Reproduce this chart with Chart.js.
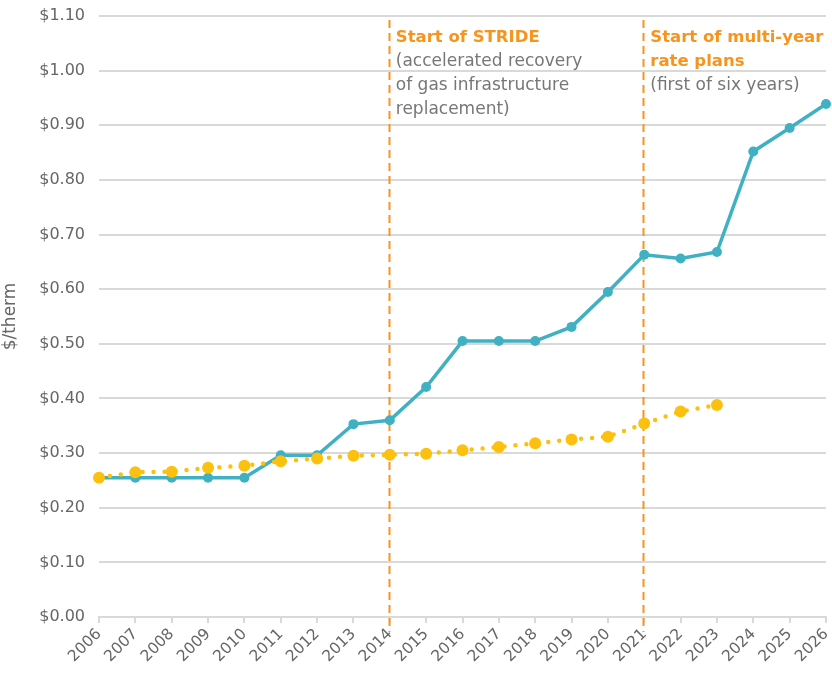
<!DOCTYPE html>
<html>
<head>
  <title>Gas rate per therm</title>
  <script src="https://cdn.jsdelivr.net/npm/chart.js"></script>
  <style>
    body { margin: 0; background: #fff; }
    #wrap { width: 832px; height: 678px; }
  </style>
</head>
<body>
  <div id="wrap"><canvas id="rateChart"></canvas></div>

  <script>
    const years = ["2006","2007","2008","2009","2010","2011","2012","2013","2014","2015","2016",
                   "2017","2018","2019","2020","2021","2022","2023","2024","2025","2026"];
    const rateValues = [0.255, 0.255, 0.255, 0.255, 0.255, 0.296, 0.296, 0.353, 0.360, 0.421, 0.505,
                        0.505, 0.505, 0.531, 0.595, 0.663, 0.656, 0.668, 0.852, 0.895, 0.939];
    const inflationValues = [0.255, 0.265, 0.266, 0.273, 0.277, 0.285, 0.290, 0.295, 0.297, 0.299, 0.305,
                             0.311, 0.318, 0.325, 0.330, 0.354, 0.376, 0.388];
    const yTicks = [0, 0.1, 0.2, 0.3, 0.4, 0.5, 0.6, 0.7, 0.8, 0.9, 1.0, 1.1];
    const markers = [
      { year: "2014", title: ["Start of STRIDE"], note: ["(accelerated recovery", "of gas infrastructure", "replacement)"] },
      { year: "2021", title: ["Start of multi-year", "rate plans"], note: ["(first of six years)"] }
    ];

    const FONT = "'DejaVu Sans', sans-serif";
    const ORANGE = "#f7941d";

    const markerPlugin = {
      id: "markers",
      beforeDatasetsDraw(chart) {
        const ctx = chart.ctx;
        const x = chart.scales.x;
        ctx.save();
        ctx.strokeStyle = ORANGE;
        ctx.lineWidth = 2;
        ctx.setLineDash([8, 5]);
        markers.forEach(m => {
          const px = Math.round(x.getPixelForValue(years.indexOf(m.year))) - 0.5;
          ctx.beginPath();
          ctx.moveTo(px, 20);
          ctx.lineTo(px, 632);
          ctx.stroke();
        });
        ctx.restore();
      },
      afterDraw(chart) {
        const ctx = chart.ctx;
        const x = chart.scales.x;
        ctx.save();
        ctx.textBaseline = "alphabetic";
        ctx.textAlign = "left";
        markers.forEach(m => {
          const px = x.getPixelForValue(years.indexOf(m.year)) + 6;
          let py = 42;
          ctx.fillStyle = ORANGE;
          ctx.font = "bold 16.5px " + FONT;
          m.title.forEach(t => { ctx.fillText(t, px, py); py += 24; });
          ctx.fillStyle = "#777";
          ctx.font = "17px " + FONT;
          m.note.forEach(t => { ctx.fillText(t, px, py); py += 24; });
        });
        ctx.restore();
      }
    };

    new Chart(document.getElementById("rateChart"), {
      type: "line",
      data: {
        labels: years,
        datasets: [
          {
            label: "Inflation",
            data: inflationValues,
            borderColor: "#fcc10f",
            backgroundColor: "#fcc10f",
            borderWidth: 4.5,
            borderDash: [0, 11],
            borderCapStyle: "round",
            pointBorderWidth: 0,
            pointRadius: 6,
            pointHoverRadius: 6,
            tension: 0,
            order: 0
          },
          {
            label: "Rate",
            data: rateValues,
            borderColor: "#40b1c3",
            backgroundColor: "#40b1c3",
            borderWidth: 3.5,
            pointBorderWidth: 0,
            pointRadius: 5,
            pointHoverRadius: 5,
            tension: 0,
            order: 1
          }
        ]
      },
      options: {
        responsive: true,
        maintainAspectRatio: false,
        animation: false,
        events: [],
        layout: { padding: { top: 16, right: 6, left: 0, bottom: 0 } },
        plugins: {
          legend: { display: false },
          tooltip: { enabled: false }
        },
        scales: {
          x: {
            afterFit(scale) {
              scale.height = 61;
              scale.paddingLeft = 0;
              scale.paddingRight = 0;
            },
            grid: { drawOnChartArea: false, drawTicks: true, tickLength: 6, color: "#d9d9d9", lineWidth: 2 },
            border: { color: "#d9d9d9", width: 2 },
            ticks: {
              minRotation: 45,
              maxRotation: 45,
              autoSkip: false,
              padding: 2,
              color: "#666",
              font: { family: FONT, size: 15.5 }
            }
          },
          y: {
            min: 0,
            max: 1.1,
            afterFit(scale) {
              scale.width = 99;
              scale.paddingTop = 0;
              scale.paddingBottom = 0;
            },
            afterBuildTicks(scale) { scale.ticks = yTicks.map(v => ({ value: v })); },
            grid: { drawTicks: false, color: "#d9d9d9", lineWidth: 2 },
            border: { display: false },
            title: { display: true, text: "$/therm", color: "#666", font: { family: FONT, size: 17 }, padding: 0 },
            ticks: {
              padding: 14,
              color: "#666",
              font: { family: FONT, size: 16 },
              callback: v => "$" + Number(v).toFixed(2)
            }
          }
        }
      },
      plugins: [markerPlugin]
    });
  </script>
</body>
</html>
